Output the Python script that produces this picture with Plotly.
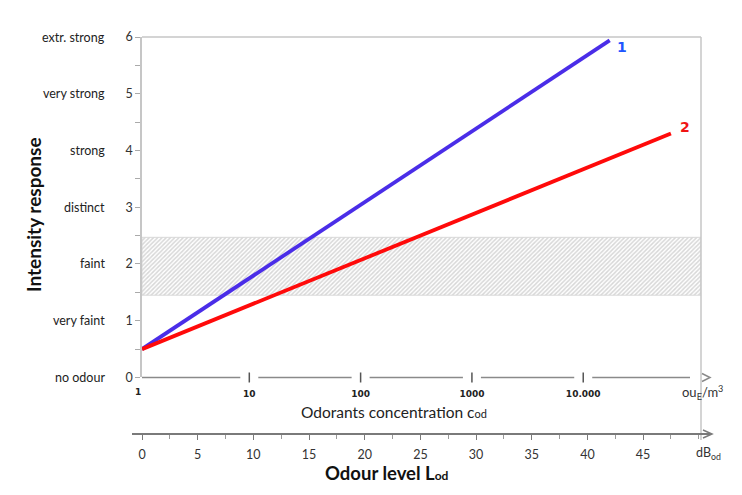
import numpy as np
import plotly.graph_objects as go

# intensity scale
intensity_ticks = [0, 1, 2, 3, 4, 5, 6]
intensity_labels = ["no odour", "very faint", "faint", "distinct", "strong", "very strong", "extr. strong"]

# odour level axis (dB_od) and concentration axis (ou_E/m3)
level_ticks = [0, 5, 10, 15, 20, 25, 30, 35, 40, 45]
conc_ticks = [1, 10, 100, 1000, 10000]
conc_labels = ["1", "10", "100", "1000", "10.000"]

# the two lines, odour level (dB_od) vs intensity
level_1 = [0, 42.0]
intensity_1 = [0.5, 5.94]
level_2 = [0, 47.5]
intensity_2 = [0.5, 4.30]

# hatched "faint" band
band_low = 1.45
band_high = 2.47

XMAX = 50.2                 # dB range shown in plot area
CLO, CHI = 0.036, 5.058     # log10 concentration range
Y0 = 0.2314                 # bottom of y domain (paper)
DB_AXIS_Y = 0.1038          # paper y of lower axis
PXH = 443.0                 # paper height in px
PXW = 559.0                 # paper width in px
PAD = 8                     # page offset of the figure

FONT = "Lato"
GREY_BOX = "#c6c6c6"
GREY_AX = "#8a8a8a"


def px_conc(c):
    return (np.log10(c) - CLO) / (CHI - CLO)


def pap_x(p):
    return (p - 142) / PXW


def pap_y(p):
    return (480 - p) / PXH


fig = go.Figure()

fig.add_trace(go.Scatter(
    x=[0, XMAX, XMAX, 0, 0], y=[band_low, band_low, band_high, band_high, band_low],
    fill="toself", mode="lines", line=dict(color="#d8d8d8", width=1),
    fillcolor="white",
    fillpattern=dict(shape="/", fgcolor="#b0b0b0", bgcolor="white", size=3, solidity=0.5),
    hoverinfo="skip", showlegend=False))

fig.add_trace(go.Scatter(x=level_1, y=intensity_1, mode="lines",
                         line=dict(color="#4a2de8", width=3.8), showlegend=False))
fig.add_trace(go.Scatter(x=level_2, y=intensity_2, mode="lines",
                         line=dict(color="#ff0a0a", width=3.8), showlegend=False))

# invisible trace so the concentration axis is drawn
fig.add_trace(go.Scatter(x=conc_ticks, y=[0] * len(conc_ticks), xaxis="x2", mode="markers",
                         marker=dict(opacity=0), hoverinfo="skip", showlegend=False))

shapes = []
# box lines
shapes.append(dict(type="line", xref="paper", yref="paper", x0=0, x1=1, y0=1, y1=1,
                   line=dict(color=GREY_BOX, width=1.5)))
shapes.append(dict(type="line", xref="paper", yref="paper", x0=1, x1=1, y0=pap_y(440), y1=1,
                   line=dict(color=GREY_BOX, width=1.5)))

# concentration axis line, broken around ticks
gap = 9 / PXW
pts = [px_conc(c) for c in conc_ticks]
starts = [0] + [p + gap for p in pts[1:]]
ends = [p - gap for p in pts[1:]] + [pap_x(690)]
for a, b in zip(starts, ends):
    shapes.append(dict(type="line", xref="paper", yref="paper", x0=a, x1=b, y0=Y0, y1=Y0,
                       line=dict(color=GREY_AX, width=1.5)))
for p in pts[1:]:
    shapes.append(dict(type="line", xref="paper", yref="paper", x0=p, x1=p,
                       y0=Y0 - 5 / PXH, y1=Y0 + 5 / PXH, line=dict(color="#555", width=1.5)))
shapes.append(dict(type="path", xref="paper", yref="paper", xsizemode="pixel", ysizemode="pixel",
                   xanchor=pap_x(710), yanchor=Y0, path="M-8,4 L0,0 L-8,-4",
                   line=dict(color=GREY_AX, width=1.5)))

# odour level axis line with arrow
shapes.append(dict(type="line", xref="paper", yref="paper", x0=pap_x(132), x1=pap_x(711),
                   y0=DB_AXIS_Y, y1=DB_AXIS_Y, line=dict(color="#7a7a7a", width=2)))
shapes.append(dict(type="path", xref="paper", yref="paper", xsizemode="pixel", ysizemode="pixel",
                   xanchor=pap_x(712), yanchor=DB_AXIS_Y, path="M-9,4 L0,0 L-9,-4",
                   line=dict(color="#7a7a7a", width=1.5)))

annotations = []
for v, lab in zip(intensity_ticks, intensity_labels):
    annotations.append(dict(x=0, xref="paper", y=v, yref="y", xanchor="right", yanchor="middle",
                            xshift=-35, text=lab, showarrow=False,
                            font=dict(family=FONT, size=12.5, color="#222")))


def label(text, x, y, size, color="#222", family=FONT):
    annotations.append(dict(x=pap_x(x), xref="paper", y=pap_y(y), yref="paper",
                            xanchor="center", yanchor="middle", text=text, showarrow=False,
                            font=dict(family=family, size=size, color=color)))


# first concentration label sits just left of the plot area (outside the axis range)
annotations.append(dict(x=px_conc(conc_ticks[0]), xref="paper", y=pap_y(392), yref="paper",
                        xanchor="center", yanchor="middle", text=f"<b>{conc_labels[0]}</b>",
                        showarrow=False, font=dict(family="DejaVu Sans", size=9, color="#222")))

annotations.append(dict(x=pap_x(33), xref="paper", y=pap_y(215), yref="paper",
                        xanchor="center", yanchor="middle", textangle=-90,
                        text="<b>Intensity response</b>", showarrow=False,
                        font=dict(family=FONT, size=19, color="#111")))
label("Odorants concentration c<span style='font-size:11px'>od</span>", 394, 412, 15.5)
label("<b>Odour level L<span style='font-size:12px'>od</span></b>", 387, 473, 18.5, "#111")
label("ou<sub>E</sub>/m<sup>3</sup>", 702, 392, 13, "#333")
label("dB<sub>od</sub>", 708, 453, 12.5, "#333")

annotations.append(dict(x=level_1[-1], y=intensity_1[-1], xref="x", yref="y", xshift=12, yshift=-7,
                        xanchor="center", yanchor="middle", text="<b>1</b>", showarrow=False,
                        font=dict(family="DejaVu Sans", size=14, color="#1f55ff")))
annotations.append(dict(x=level_2[-1], y=intensity_2[-1], xref="x", yref="y", xshift=14, yshift=6,
                        xanchor="center", yanchor="middle", text="<b>2</b>", showarrow=False,
                        font=dict(family="DejaVu Sans", size=14, color="#f01414")))

fig.update_layout(
    width=742 - PAD, height=495 - PAD,
    margin=dict(l=142 - PAD, r=41, t=37 - PAD, b=15),
    paper_bgcolor="white", plot_bgcolor="white",
    showlegend=False,
    xaxis=dict(domain=[0, 1], range=[0, XMAX], anchor="free", position=DB_AXIS_Y,
               tickvals=level_ticks, ticks="outside", ticklen=5, tickwidth=1.2, tickcolor="#7a7a7a",
               minor=dict(dtick=2.5, tick0=0, ticks="outside", ticklen=4, tickcolor="#9a9a9a"),
               showline=False, showgrid=False, zeroline=False, ticklabelstandoff=4,
               automargin=False, tickfont=dict(family=FONT, size=12.5, color="#333")),
    xaxis2=dict(type="log", range=[CLO, CHI], overlaying="x", anchor="y", side="bottom",
                tickvals=conc_ticks, ticktext=[f"<b>{t}</b>" for t in conc_labels],
                ticks="outside", ticklen=8, tickcolor="rgba(0,0,0,0)",
                showline=False, showgrid=False, zeroline=False, automargin=False,
                tickfont=dict(family="DejaVu Sans", size=9, color="#222")),
    yaxis=dict(domain=[Y0, 1], range=[0, 6], anchor="x", tickvals=intensity_ticks,
               ticks="outside", ticklen=5, tickcolor="#aaa", showline=True, linecolor=GREY_BOX,
               linewidth=1.5, minor=dict(dtick=0.5, ticks="outside", ticklen=5, tickcolor="#aaa"),
               showgrid=False, zeroline=False, automargin=False,
               tickfont=dict(family=FONT, size=12.5, color="#333")),
    shapes=shapes, annotations=annotations,
)

fig.write_html("out.html")
